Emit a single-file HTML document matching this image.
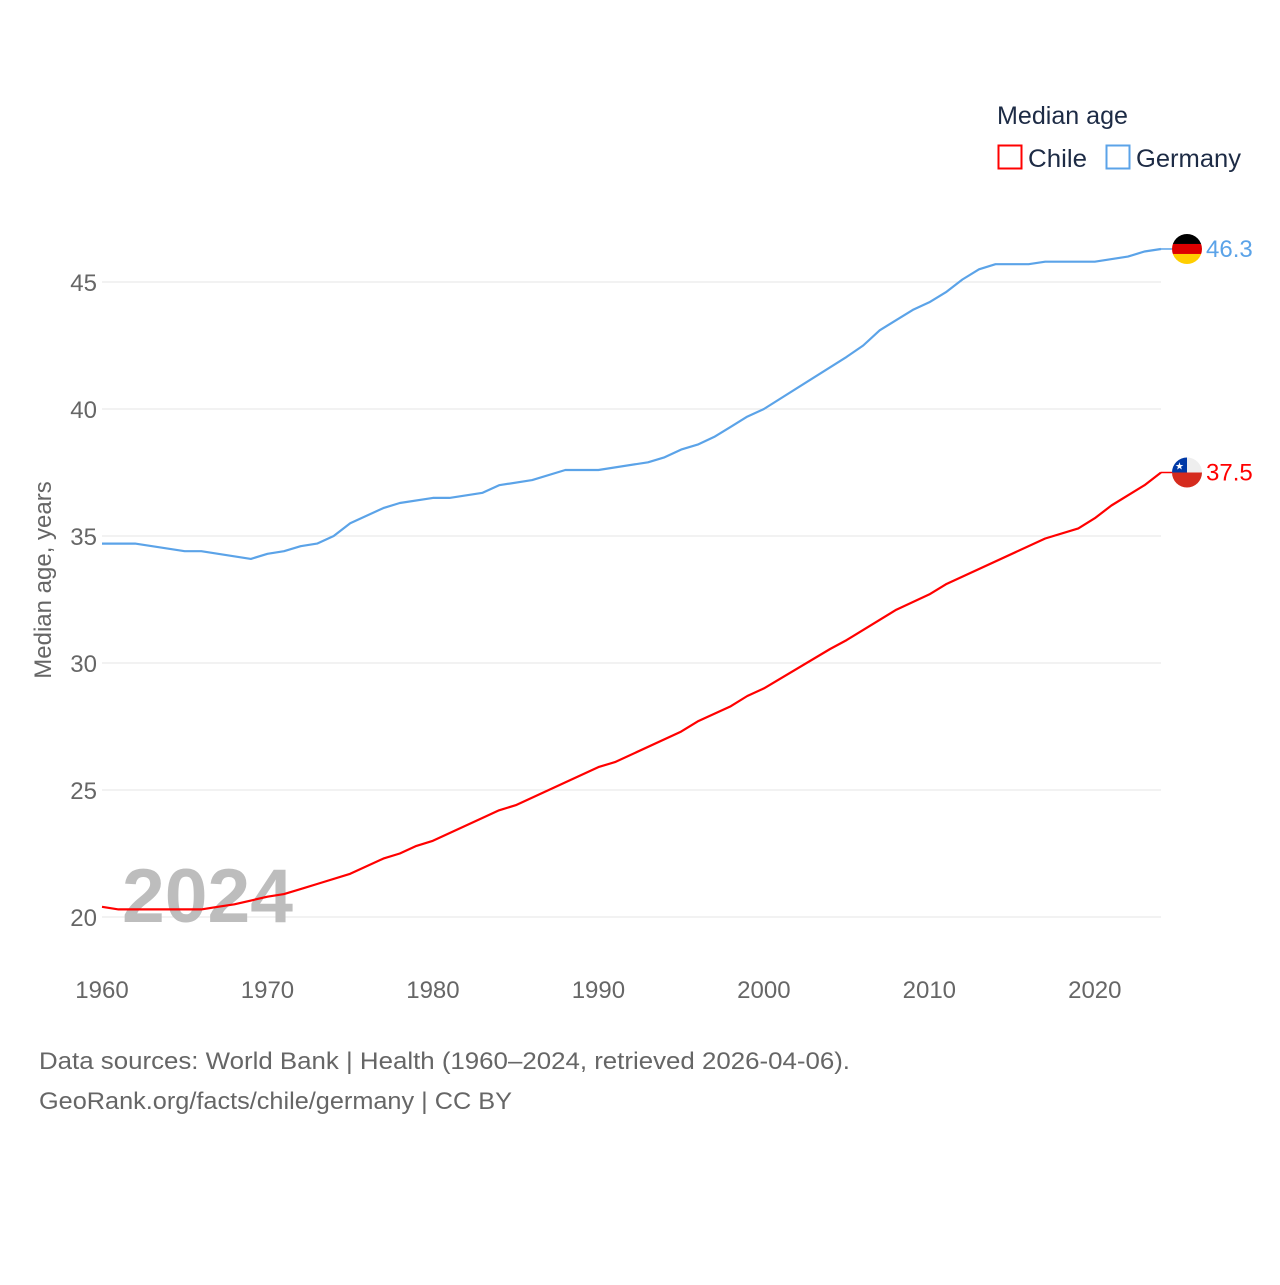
<!DOCTYPE html>
<html><head><meta charset="utf-8"><style>
body{margin:0;background:#fff;width:1280px;height:1280px;overflow:hidden;font-family:"Liberation Sans",sans-serif}
</style></head><body>
<svg id="chart" width="1280" height="1280" xmlns="http://www.w3.org/2000/svg" font-family="Liberation Sans, sans-serif">
<g id="grid"></g>
<g id="yticks"></g>
<g id="xticks"></g>
<text x="122" y="922" font-size="76" font-weight="bold" fill="#bdbdbd" textLength="171" lengthAdjust="spacingAndGlyphs">2024</text>
<g id="lines"></g>
<text transform="translate(51,580) rotate(-90)" text-anchor="middle" font-size="24" fill="#666">Median age, years</text>
<text x="997" y="124" font-size="25" fill="#1d2b45" textLength="131" lengthAdjust="spacingAndGlyphs">Median age</text>
<rect x="998.5" y="145.5" width="23" height="23" fill="none" stroke="#f00" stroke-width="2"/>
<text x="1028" y="167" font-size="25" fill="#1d2b45" textLength="59" lengthAdjust="spacingAndGlyphs">Chile</text>
<rect x="1106.5" y="145.5" width="23" height="23" fill="none" stroke="#5ba3e8" stroke-width="2"/>
<text x="1136" y="167" font-size="25" fill="#1d2b45" textLength="105" lengthAdjust="spacingAndGlyphs">Germany</text>
<text x="39" y="1069" font-size="24" fill="#666" textLength="811" lengthAdjust="spacingAndGlyphs">Data sources: World Bank | Health (1960–2024, retrieved 2026-04-06).</text>
<text x="39" y="1109" font-size="24" fill="#666" textLength="473" lengthAdjust="spacingAndGlyphs">GeoRank.org/facts/chile/germany | CC BY</text>
<defs>
<clipPath id="cde"><circle cx="1187" cy="0" r="15"/></clipPath>
</defs>
<g id="ends"></g>
</svg>
<script>
const yTicks=[20,25,30,35,40,45];
const xTicks=[1960,1970,1980,1990,2000,2010,2020];
const germanyYears=[1960,1962,1965,1966,1969,1970,1971,1972,1973,1974,1975,1977,1978,1980,1981,1983,1984,1986,1988,1990,1993,1994,1995,1996,1997,1998,1999,2000,2005,2006,2007,2008,2009,2010,2011,2012,2013,2014,2016,2017,2020,2022,2023,2024];
const germanyValues=[34.7,34.7,34.4,34.4,34.1,34.3,34.4,34.6,34.7,35.0,35.5,36.1,36.3,36.5,36.5,36.7,37.0,37.2,37.6,37.6,37.9,38.1,38.4,38.6,38.9,39.3,39.7,40.0,42.05,42.5,43.1,43.5,43.9,44.2,44.6,45.1,45.5,45.7,45.7,45.8,45.8,46.0,46.2,46.3];
const chileYears=[1960,1961,1966,1967,1968,1970,1971,1972,1973,1975,1977,1978,1979,1980,1983,1984,1985,1988,1990,1991,1995,1996,1998,1999,2000,2004,2005,2008,2010,2011,2017,2019,2020,2021,2023,2024];
const chileValues=[20.4,20.3,20.3,20.4,20.5,20.8,20.9,21.1,21.3,21.7,22.3,22.5,22.8,23.0,23.9,24.2,24.4,25.3,25.9,26.1,27.3,27.7,28.3,28.7,29.0,30.55,30.9,32.1,32.7,33.1,34.9,35.3,35.7,36.2,37.0,37.5];
const NS="http://www.w3.org/2000/svg";
const xs=y=>102+(y-1960)*(1161-102)/64;
const ys=v=>917-(v-20)*25.4;
function mk(t,a,p){const e=document.createElementNS(NS,t);for(const k in a)e.setAttribute(k,a[k]);p.appendChild(e);return e;}
const grid=document.getElementById('grid'),yt=document.getElementById('yticks'),xt=document.getElementById('xticks'),ln=document.getElementById('lines'),ends=document.getElementById('ends');
yTicks.forEach(v=>{
 const l=mk('line',{x1:102,x2:1161,y1:ys(v),y2:ys(v),stroke:'#e6e6e6','stroke-width':1},grid);
 
 
 const t=mk('text',{x:97,y:ys(v)+9,'text-anchor':'end','font-size':24,fill:'#666'},yt);
 t.textContent=v;
 
 
});
xTicks.forEach(y=>{
 const t=mk('text',{x:xs(y),y:998,'text-anchor':'middle','font-size':24,fill:'#666'},xt);
 t.textContent=y;
 
 
});
function series(yrs,vals,color,name){
 const d=yrs.map((y,i)=>(i?'L':'M')+xs(y).toFixed(1)+','+ys(vals[i]).toFixed(1)).join('');
 const p=mk('path',{d:d,fill:'none',stroke:color,'stroke-width':2.2,'stroke-linejoin':'round'},ln);
 
 
 const lv=vals[vals.length-1],cy=ys(lv);
 const c=mk('line',{x1:1161,x2:1172,y1:cy,y2:cy,stroke:color,'stroke-width':1.5},ends);
 
 
 const g=mk('g',{transform:'translate(0,'+cy+')'},ends);
 
 
 const cg=mk('g',{'clip-path':'url(#cde)'},g);
 if(name==='germany'){
  mk('rect',{x:1172,y:-15,width:30,height:10,fill:'#000'},cg);
  mk('rect',{x:1172,y:-5,width:30,height:10,fill:'#dd0000'},cg);
  mk('rect',{x:1172,y:5,width:30,height:10,fill:'#ffce00'},cg);
 }else{
  mk('rect',{x:1172,y:-15,width:30,height:15,fill:'#eeeeee'},cg);
  mk('rect',{x:1172,y:-15,width:15,height:15,fill:'#0039a6'},cg);
  mk('rect',{x:1172,y:0,width:30,height:15,fill:'#d52b1e'},cg);
  const s=mk('text',{x:1179.5,y:-3,'text-anchor':'middle','font-size':10,fill:'#fff'},cg);s.textContent='★';
 }
 const t=mk('text',{x:1206,y:cy+8,'font-size':24,fill:color},ends);
 t.textContent=lv.toFixed(1);
 
 
}
series(germanyYears,germanyValues,'#5ba3e8','germany');
series(chileYears,chileValues,'#ff0000','chile');
</script>
</body></html>
